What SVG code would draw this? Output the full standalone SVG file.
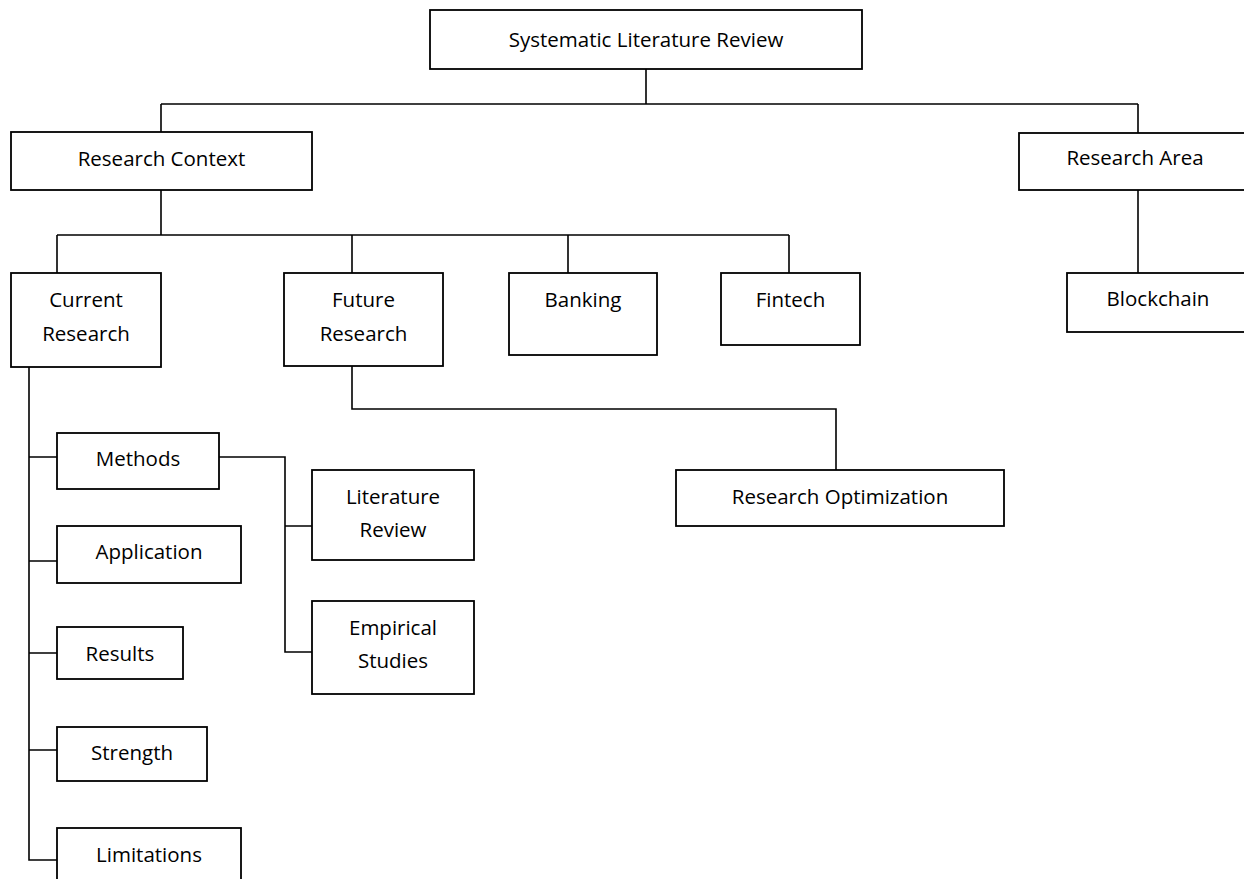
<svg xmlns="http://www.w3.org/2000/svg" width="1244" height="879" viewBox="0 0 1244 879">
<style>
.box{fill:#fff;stroke:#000;stroke-width:1.8}
.ln{fill:none;stroke:#000;stroke-width:1.6}
text{font-family:"Open Sans","Liberation Sans",sans-serif;font-size:20.5px;fill:#000;text-anchor:middle}
</style>
<rect width="1244" height="879" fill="#fff"/>
<g id="connectors">
<path class="ln" d="M646 69V104M161 104H1138M161 104V132M1138 104V133"/>
<path class="ln" d="M161 190V235M57 235H789M57 235V273M352 235V273M568 235V273M789 235V273"/>
<path class="ln" d="M1138 190V273"/>
<path class="ln" d="M352 366V409H836V470"/>
<path class="ln" d="M29 367V860H57M29 457H57M29 561H57M29 653H57M29 750H57"/>
<path class="ln" d="M219 457H285V652H312M285 526H312"/>
</g>
<g id="slr"><rect class="box" x="430" y="10" width="432" height="59"/><text x="646" y="47">Systematic Literature Review</text></g>
<g id="context"><rect class="box" x="11" y="132" width="301" height="58"/><text x="161.5" y="166">Research Context</text></g>
<g id="area"><rect class="box" x="1019" y="133" width="240" height="57"/><text x="1135" y="165">Research Area</text></g>
<g id="blockchain"><rect class="box" x="1067" y="273" width="190" height="59"/><text x="1158" y="306">Blockchain</text></g>
<g id="current"><rect class="box" x="11" y="273" width="150" height="94"/><text x="86" y="307">Current</text><text x="86" y="341">Research</text></g>
<g id="future"><rect class="box" x="284" y="273" width="159" height="93"/><text x="363.5" y="307">Future</text><text x="363.5" y="341">Research</text></g>
<g id="banking"><rect class="box" x="509" y="273" width="148" height="82"/><text x="583" y="307">Banking</text></g>
<g id="fintech"><rect class="box" x="721" y="273" width="139" height="72"/><text x="790.5" y="307">Fintech</text></g>
<g id="optimization"><rect class="box" x="676" y="470" width="328" height="56"/><text x="840" y="504">Research Optimization</text></g>
<g id="methods"><rect class="box" x="57" y="433" width="162" height="56"/><text x="138" y="466">Methods</text></g>
<g id="application"><rect class="box" x="57" y="526" width="184" height="57"/><text x="149" y="559">Application</text></g>
<g id="results"><rect class="box" x="57" y="627" width="126" height="52"/><text x="120" y="661">Results</text></g>
<g id="strength"><rect class="box" x="57" y="727" width="150" height="54"/><text x="132" y="760">Strength</text></g>
<g id="limitations"><rect class="box" x="57" y="828" width="184" height="60"/><text x="149" y="862">Limitations</text></g>
<g id="litreview"><rect class="box" x="312" y="470" width="162" height="90"/><text x="393" y="504">Literature</text><text x="393" y="537">Review</text></g>
<g id="empirical"><rect class="box" x="312" y="601" width="162" height="93"/><text x="393" y="635">Empirical</text><text x="393" y="668">Studies</text></g>
</svg>
